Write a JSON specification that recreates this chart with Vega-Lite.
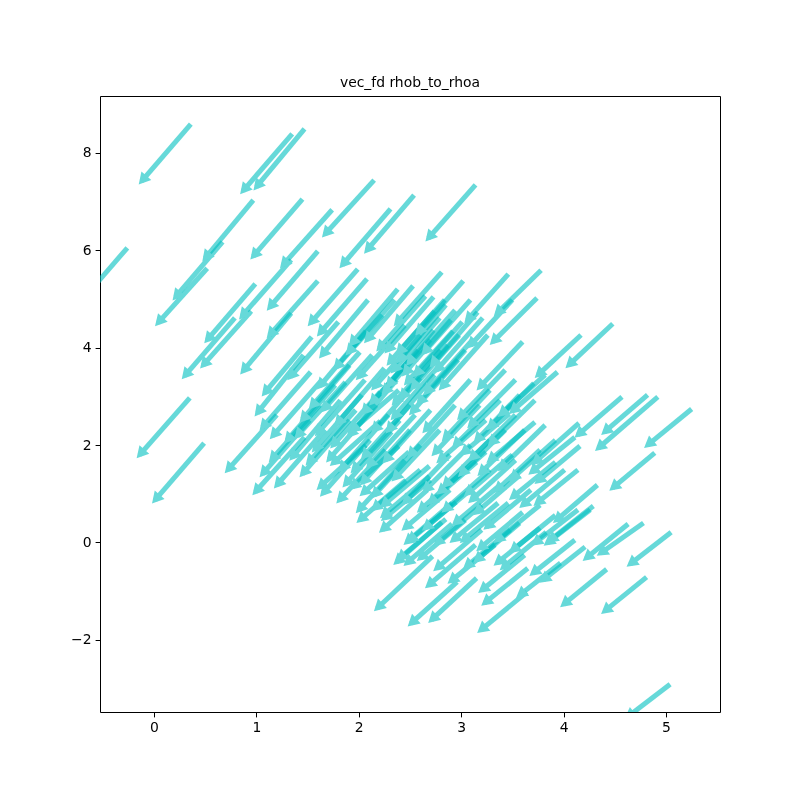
{
  "$schema": "https://vega.github.io/schema/vega-lite/v6.json",
  "autosize": "none",
  "width": 620,
  "height": 616,
  "padding": {"left": 100, "top": 96, "right": 80, "bottom": 88},
  "background": "white",
  "title": {"text": "vec_fd rhob_to_rhoa", "font": "DejaVu Sans", "fontSize": 13.9, "fontWeight": "normal", "color": "black", "offset": 6, "anchor": "middle"},
  "config": {
    "view": {"stroke": "black", "strokeWidth": 1},
    "axis": {"grid": false, "domain": false, "labelFont": "DejaVu Sans", "labelFontSize": 13.9, "labelColor": "black", "tickColor": "black", "tickSize": 4.9, "tickWidth": 1, "labelPadding": 4, "title": null}
  },
  "data": {"values": [
    {"x0":0.36,"y0":8.59,"x1":-0.12,"y1":7.42},
    {"x0":1.35,"y0":8.39,"x1":0.87,"y1":7.22},
    {"x0":1.47,"y0":8.49,"x1":1.00,"y1":7.30},
    {"x0":0.97,"y0":7.03,"x1":0.50,"y1":5.84},
    {"x0":1.45,"y0":7.05,"x1":0.97,"y1":5.88},
    {"x0":-0.26,"y0":6.05,"x1":-0.74,"y1":4.88},
    {"x0":1.74,"y0":6.83,"x1":1.26,"y1":5.70},
    {"x0":2.15,"y0":7.44,"x1":1.67,"y1":6.33},
    {"x0":2.54,"y0":7.13,"x1":2.08,"y1":6.00},
    {"x0":2.31,"y0":6.85,"x1":1.84,"y1":5.70},
    {"x0":3.14,"y0":7.34,"x1":2.68,"y1":6.25},
    {"x0":0.67,"y0":6.17,"x1":0.21,"y1":5.04},
    {"x0":0.52,"y0":5.63,"x1":0.04,"y1":4.51},
    {"x0":1.60,"y0":5.98,"x1":1.13,"y1":4.83},
    {"x0":1.60,"y0":5.37,"x1":1.13,"y1":4.26},
    {"x0":0.99,"y0":5.31,"x1":0.52,"y1":4.16},
    {"x0":0.79,"y0":4.61,"x1":0.30,"y1":3.42},
    {"x0":0.95,"y0":4.75,"x1":0.48,"y1":3.64},
    {"x0":1.34,"y0":4.71,"x1":0.87,"y1":3.52},
    {"x0":1.34,"y0":5.80,"x1":0.86,"y1":4.65},
    {"x0":1.99,"y0":5.61,"x1":1.53,"y1":4.51},
    {"x0":2.09,"y0":4.98,"x1":1.64,"y1":3.85},
    {"x0":2.08,"y0":5.41,"x1":1.62,"y1":4.30},
    {"x0":2.38,"y0":5.20,"x1":1.93,"y1":4.09},
    {"x0":2.53,"y0":5.27,"x1":2.08,"y1":4.16},
    {"x0":2.81,"y0":5.55,"x1":2.37,"y1":4.51},
    {"x0":3.02,"y0":5.37,"x1":2.58,"y1":4.32},
    {"x0":3.46,"y0":5.51,"x1":3.06,"y1":4.57},
    {"x0":3.78,"y0":5.59,"x1":3.35,"y1":4.71},
    {"x0":3.74,"y0":5.02,"x1":3.31,"y1":4.12},
    {"x0":3.50,"y0":4.98,"x1":3.09,"y1":4.05},
    {"x0":3.60,"y0":4.12,"x1":3.18,"y1":3.19},
    {"x0":2.73,"y0":5.04,"x1":2.28,"y1":3.95},
    {"x0":4.48,"y0":4.49,"x1":4.05,"y1":3.64},
    {"x0":4.17,"y0":4.26,"x1":3.75,"y1":3.44},
    {"x0":3.94,"y0":3.50,"x1":3.50,"y1":2.70},
    {"x0":4.57,"y0":2.99,"x1":4.14,"y1":2.21},
    {"x0":4.82,"y0":3.03,"x1":4.40,"y1":2.27},
    {"x0":4.92,"y0":2.99,"x1":4.34,"y1":1.94},
    {"x0":5.25,"y0":2.74,"x1":4.82,"y1":2.00},
    {"x0":4.15,"y0":2.45,"x1":3.72,"y1":1.65},
    {"x0":4.11,"y0":2.16,"x1":3.69,"y1":1.45},
    {"x0":4.89,"y0":1.84,"x1":4.48,"y1":1.12},
    {"x0":4.33,"y0":1.18,"x1":3.93,"y1":0.46},
    {"x0":4.16,"y0":1.98,"x1":3.75,"y1":1.26},
    {"x0":4.01,"y0":1.49,"x1":3.60,"y1":0.77},
    {"x0":4.14,"y0":1.49,"x1":3.74,"y1":0.81},
    {"x0":5.05,"y0":0.21,"x1":4.65,"y1":-0.44},
    {"x0":4.63,"y0":0.38,"x1":4.22,"y1":-0.32},
    {"x0":4.78,"y0":0.40,"x1":4.36,"y1":-0.22},
    {"x0":4.42,"y0":-0.55,"x1":4.00,"y1":-1.27},
    {"x0":4.81,"y0":-0.71,"x1":4.40,"y1":-1.41},
    {"x0":5.04,"y0":-2.91,"x1":4.63,"y1":-3.57},
    {"x0":4.29,"y0":0.75,"x1":3.87,"y1":0.05},
    {"x0":4.14,"y0":0.67,"x1":3.72,"y1":-0.01},
    {"x0":4.26,"y0":0.67,"x1":3.84,"y1":-0.01},
    {"x0":4.11,"y0":0.05,"x1":3.70,"y1":-0.63},
    {"x0":4.21,"y0":-0.09,"x1":3.80,"y1":-0.77},
    {"x0":3.97,"y0":-0.42,"x1":3.57,"y1":-1.08},
    {"x0":3.92,"y0":1.65,"x1":3.50,"y1":0.93},
    {"x0":2.72,"y0":-0.28,"x1":2.18,"y1":-1.35},
    {"x0":2.96,"y0":-0.81,"x1":2.51,"y1":-1.66},
    {"x0":3.15,"y0":-0.73,"x1":2.71,"y1":-1.59},
    {"x0":3.64,"y0":-1.02,"x1":3.19,"y1":-1.80},
    {"x0":3.65,"y0":-0.53,"x1":3.23,"y1":-1.24},
    {"x0":3.62,"y0":-0.26,"x1":3.20,"y1":-0.98},
    {"x0":3.57,"y0":0.40,"x1":3.15,"y1":-0.36},
    {"x0":3.60,"y0":0.62,"x1":3.18,"y1":-0.12},
    {"x0":3.77,"y0":0.30,"x1":3.35,"y1":-0.42},
    {"x0":3.83,"y0":0.21,"x1":3.41,"y1":-0.51},
    {"x0":3.14,"y0":-0.05,"x1":2.68,"y1":-0.88},
    {"x0":3.20,"y0":0.26,"x1":2.76,"y1":-0.53},
    {"x0":3.20,"y0":0.77,"x1":2.76,"y1":-0.01},
    {"x0":2.91,"y0":0.38,"x1":2.47,"y1":-0.42},
    {"x0":2.85,"y0":0.48,"x1":2.40,"y1":-0.32},
    {"x0":2.95,"y0":0.83,"x1":2.50,"y1":0.05},
    {"x0":3.36,"y0":0.81,"x1":2.92,"y1":0.05},
    {"x0":3.46,"y0":0.81,"x1":3.02,"y1":0.05},
    {"x0":3.68,"y0":1.08,"x1":3.25,"y1":0.32},
    {"x0":3.50,"y0":1.80,"x1":3.06,"y1":1.01},
    {"x0":3.24,"y0":1.86,"x1":2.79,"y1":1.04},
    {"x0":3.15,"y0":1.65,"x1":2.70,"y1":0.83},
    {"x0":3.47,"y0":2.64,"x1":3.02,"y1":1.84},
    {"x0":3.24,"y0":2.51,"x1":2.79,"y1":1.69},
    {"x0":3.72,"y0":2.47,"x1":3.28,"y1":1.69},
    {"x0":2.91,"y0":0.81,"x1":2.47,"y1":0.01},
    {"x0":2.81,"y0":0.42,"x1":2.37,"y1":-0.40},
    {"x0":2.69,"y0":1.36,"x1":2.24,"y1":0.56},
    {"x0":2.69,"y0":1.57,"x1":2.24,"y1":0.77},
    {"x0":2.46,"y0":1.28,"x1":2.01,"y1":0.46},
    {"x0":2.67,"y0":1.08,"x1":2.23,"y1":0.26},
    {"x0":2.49,"y0":1.86,"x1":2.04,"y1":1.01},
    {"x0":2.39,"y0":1.98,"x1":1.94,"y1":1.14},
    {"x0":2.07,"y0":2.00,"x1":1.62,"y1":1.14},
    {"x0":2.21,"y0":2.49,"x1":1.75,"y1":1.63},
    {"x0":2.39,"y0":3.13,"x1":1.94,"y1":2.31},
    {"x0":1.54,"y0":4.22,"x1":1.08,"y1":3.07},
    {"x0":1.46,"y0":3.85,"x1":1.01,"y1":2.66},
    {"x0":1.64,"y0":3.34,"x1":1.16,"y1":2.19},
    {"x0":1.77,"y0":3.23,"x1":1.30,"y1":2.10},
    {"x0":1.82,"y0":2.92,"x1":1.35,"y1":1.75},
    {"x0":1.20,"y0":2.62,"x1":0.72,"y1":1.49},
    {"x0":1.47,"y0":2.16,"x1":0.99,"y1":1.04},
    {"x0":1.67,"y0":2.31,"x1":1.20,"y1":1.18},
    {"x0":1.53,"y0":3.50,"x1":1.06,"y1":2.37},
    {"x0":0.35,"y0":2.97,"x1":-0.14,"y1":1.80},
    {"x0":0.49,"y0":2.04,"x1":0.01,"y1":0.87},
    {"x0":2.07,"y0":4.34,"x1":1.62,"y1":3.21},
    {"x0":1.80,"y0":4.53,"x1":1.33,"y1":3.40},
    {"x0":2.25,"y0":3.58,"x1":1.79,"y1":2.45},
    {"x0":2.37,"y0":3.34,"x1":1.91,"y1":2.21},
    {"x0":2.74,"y0":3.44,"x1":2.29,"y1":2.31},
    {"x0":2.73,"y0":4.36,"x1":2.29,"y1":3.23},
    {"x0":2.85,"y0":4.88,"x1":2.40,"y1":3.75},
    {"x0":2.90,"y0":4.57,"x1":2.45,"y1":3.48},
    {"x0":2.98,"y0":4.26,"x1":2.53,"y1":3.19},
    {"x0":3.21,"y0":4.61,"x1":2.76,"y1":3.54},
    {"x0":3.43,"y0":3.54,"x1":2.99,"y1":2.58},
    {"x0":3.71,"y0":3.27,"x1":3.28,"y1":2.37},
    {"x0":3.82,"y0":3.44,"x1":3.39,"y1":2.64},
    {"x0":2.84,"y0":4.98,"x1":2.39,"y1":3.91},
    {"x0":2.94,"y0":4.77,"x1":2.49,"y1":3.70},
    {"x0":3.01,"y0":4.53,"x1":2.56,"y1":3.46},
    {"x0":2.79,"y0":4.61,"x1":2.34,"y1":3.54},
    {"x0":3.09,"y0":4.98,"x1":2.64,"y1":3.91},
    {"x0":3.16,"y0":4.73,"x1":2.72,"y1":3.66},
    {"x0":2.70,"y0":4.16,"x1":2.25,"y1":3.09},
    {"x0":2.58,"y0":3.95,"x1":2.13,"y1":2.88},
    {"x0":2.87,"y0":4.05,"x1":2.42,"y1":2.99},
    {"x0":3.04,"y0":3.95,"x1":2.59,"y1":2.88},
    {"x0":2.45,"y0":4.46,"x1":2.00,"y1":3.40},
    {"x0":2.35,"y0":4.98,"x1":1.90,"y1":3.91},
    {"x0":2.23,"y0":4.67,"x1":1.78,"y1":3.60},
    {"x0":3.26,"y0":4.26,"x1":2.81,"y1":3.19},
    {"x0":2.79,"y0":3.64,"x1":2.34,"y1":2.58},
    {"x0":2.60,"y0":3.38,"x1":2.15,"y1":2.31},
    {"x0":3.09,"y0":3.34,"x1":2.65,"y1":2.31},
    {"x0":3.28,"y0":3.13,"x1":2.84,"y1":2.14},
    {"x0":3.53,"y0":3.34,"x1":3.09,"y1":2.41},
    {"x0":3.38,"y0":2.92,"x1":2.94,"y1":2.00},
    {"x0":3.18,"y0":2.82,"x1":2.74,"y1":1.84},
    {"x0":2.94,"y0":2.82,"x1":2.50,"y1":1.80},
    {"x0":2.70,"y0":2.72,"x1":2.26,"y1":1.69},
    {"x0":2.50,"y0":2.82,"x1":2.05,"y1":1.77},
    {"x0":3.57,"y0":3.03,"x1":3.15,"y1":2.10},
    {"x0":3.72,"y0":2.92,"x1":3.29,"y1":2.04},
    {"x0":3.53,"y0":2.62,"x1":3.10,"y1":1.73},
    {"x0":3.62,"y0":2.31,"x1":3.19,"y1":1.43},
    {"x0":3.43,"y0":2.31,"x1":3.00,"y1":1.41},
    {"x0":3.28,"y0":2.10,"x1":2.84,"y1":1.18},
    {"x0":3.09,"y0":2.00,"x1":2.65,"y1":1.08},
    {"x0":3.82,"y0":2.41,"x1":3.39,"y1":1.53},
    {"x0":3.92,"y0":2.10,"x1":3.50,"y1":1.32},
    {"x0":3.77,"y0":1.90,"x1":3.35,"y1":1.08},
    {"x0":3.53,"y0":1.69,"x1":3.10,"y1":0.87},
    {"x0":2.01,"y0":3.91,"x1":1.54,"y1":2.80},
    {"x0":1.91,"y0":3.64,"x1":1.45,"y1":2.53},
    {"x0":2.13,"y0":3.85,"x1":1.66,"y1":2.74},
    {"x0":1.87,"y0":3.29,"x1":1.40,"y1":2.19},
    {"x0":2.03,"y0":3.03,"x1":1.57,"y1":1.92},
    {"x0":2.17,"y0":2.82,"x1":1.71,"y1":1.71},
    {"x0":1.91,"y0":2.51,"x1":1.45,"y1":1.41},
    {"x0":2.29,"y0":2.62,"x1":1.83,"y1":1.51},
    {"x0":2.32,"y0":2.27,"x1":1.87,"y1":1.20},
    {"x0":2.11,"y0":2.10,"x1":1.65,"y1":1.01},
    {"x0":2.50,"y0":2.31,"x1":2.04,"y1":1.24},
    {"x0":2.60,"y0":2.00,"x1":2.15,"y1":0.97},
    {"x0":2.45,"y0":1.69,"x1":2.00,"y1":0.67},
    {"x0":2.79,"y0":2.31,"x1":2.35,"y1":1.32},
    {"x0":2.89,"y0":1.80,"x1":2.45,"y1":0.83},
    {"x0":1.62,"y0":2.82,"x1":1.15,"y1":1.71},
    {"x0":1.52,"y0":2.51,"x1":1.06,"y1":1.41},
    {"x0":2.65,"y0":5.06,"x1":2.20,"y1":3.99},
    {"x0":2.74,"y0":4.75,"x1":2.30,"y1":3.70},
    {"x0":2.92,"y0":4.34,"x1":2.47,"y1":3.29},
    {"x0":2.60,"y0":4.26,"x1":2.15,"y1":3.19},
    {"x0":2.80,"y0":3.95,"x1":2.35,"y1":2.88},
    {"x0":2.97,"y0":3.75,"x1":2.52,"y1":2.68},
    {"x0":3.11,"y0":4.16,"x1":2.66,"y1":3.09},
    {"x0":2.50,"y0":3.75,"x1":2.05,"y1":2.68},
    {"x0":2.06,"y0":3.34,"x1":1.60,"y1":2.25},
    {"x0":2.21,"y0":3.09,"x1":1.75,"y1":2.00},
    {"x0":1.97,"y0":2.72,"x1":1.51,"y1":1.65},
    {"x0":2.40,"y0":2.51,"x1":1.95,"y1":1.49},
    {"x0":2.26,"y0":1.90,"x1":1.81,"y1":0.87},
    {"x0":2.55,"y0":2.62,"x1":2.10,"y1":1.59},
    {"x0":3.04,"y0":1.49,"x1":2.60,"y1":0.67},
    {"x0":3.28,"y0":1.49,"x1":2.84,"y1":0.67},
    {"x0":3.38,"y0":1.18,"x1":2.94,"y1":0.40},
    {"x0":3.57,"y0":1.38,"x1":3.15,"y1":0.62},
    {"x0":3.09,"y0":1.08,"x1":2.65,"y1":0.30},
    {"x0":2.89,"y0":1.08,"x1":2.45,"y1":0.30},
    {"x0":3.48,"y0":0.26,"x1":3.05,"y1":-0.49},
    {"x0":3.33,"y0":-0.05,"x1":2.90,"y1":-0.79},
    {"x0":3.77,"y0":0.77,"x1":3.35,"y1":0.05},
    {"x0":3.92,"y0":0.56,"x1":3.50,"y1":-0.16},
    {"x0":3.04,"y0":0.46,"x1":2.60,"y1":-0.32},
    {"x0":2.60,"y0":1.49,"x1":2.15,"y1":0.70},
    {"x0":2.70,"y0":1.28,"x1":2.25,"y1":0.50}
  ]},
  "layer": [
    {
      "mark": {"type": "rule", "clip": true, "color": "#00bfbf", "opacity": 0.6, "strokeWidth": 5, "strokeCap": "butt"},
      "encoding": {
        "x": {"field": "x0", "type": "quantitative", "scale": {"domain": [-0.527, 5.527], "nice": false, "zero": false}, "axis": {"values": [0, 1, 2, 3, 4, 5], "format": "d"}},
        "y": {"field": "y0", "type": "quantitative", "scale": {"domain": [-3.48, 9.166], "nice": false, "zero": false}, "axis": {"values": [-2, 0, 2, 4, 6, 8], "format": "d"}},
        "x2": {"field": "x1"},
        "y2": {"field": "y1"}
      }
    },
    {
      "mark": {"type": "point", "clip": true, "shape": "M0,-0.7L1,1.1L-1,1.1Z", "size": 169, "filled": true, "fill": "#66d9d9", "opacity": 1, "fillOpacity": 1, "strokeWidth": 0, "blend": "darken",
        "angle": {"expr": "atan2(scale('x', datum.x1) - scale('x', datum.x0), scale('y', datum.y0) - scale('y', datum.y1)) * 180 / PI"}},
      "encoding": {
        "x": {"field": "x1", "type": "quantitative"},
        "y": {"field": "y1", "type": "quantitative"}
      }
    }
  ]
}
